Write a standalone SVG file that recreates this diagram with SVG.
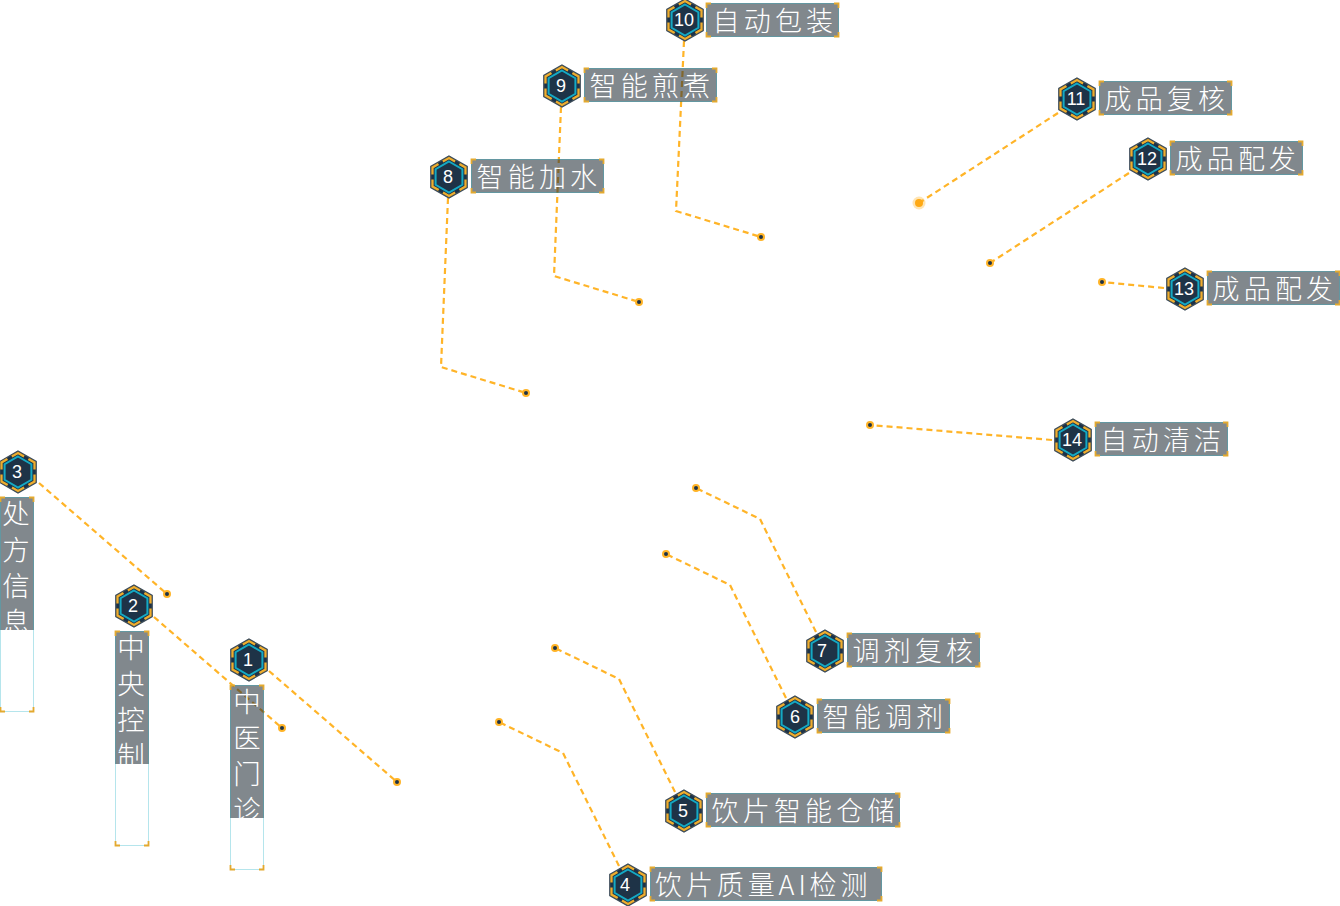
<svg xmlns="http://www.w3.org/2000/svg" width="1340" height="906" viewBox="0 0 1340 906">
<style>
.c{fill:none;stroke:#ffb428;stroke-width:2.200;stroke-dasharray:6 4}
.dot{fill:#1e3347;stroke:#ffb428;stroke-width:2}
.b{fill:rgb(30,42,52);fill-opacity:.56}
.f{fill:none;stroke:#2bb3c8;stroke-width:1;stroke-dasharray:1 1;stroke-opacity:.7}
.k{fill:none;stroke:#e3a92f;stroke-width:1.800}
.t{font-family:"Noto Sans CJK SC","Noto Sans",sans-serif;font-weight:300;font-size:27px;fill:#fff;letter-spacing:4.200px}
.v{font-family:"Noto Sans CJK SC","Noto Sans",sans-serif;font-weight:300;font-size:27.500px;fill:#fff;writing-mode:vertical-rl;text-orientation:upright;letter-spacing:8.500px}
.n{font-family:"Liberation Sans",Arial,sans-serif;font-size:18px;fill:#fff;text-anchor:middle}
</style>
<defs>
<g id="hex">
<polygon points="0,-21 18.2,-10.500 18.2,10.500 0,21 -18.2,10.500 -18.200,-10.500" fill="#1e3347" stroke="#3d4c59" stroke-width="1.300"/>
<polygon points="0,-19 16.500,-9.500 16.500,9.500 0,19 -16.500,9.500 -16.500,-9.500" fill="#1e3347" stroke="#eead2e" stroke-width="2.300" stroke-dasharray="14 5" stroke-dashoffset="7"/>
<polygon points="0,-15.500 13.400,-7.750 13.400,7.750 0,15.500 -13.400,7.750 -13.400,-7.750" fill="#1e3347" stroke="#14a9c4" stroke-width="2"/>
</g>
<clipPath id="c1"><rect x="230" y="685" width="34" height="133"/></clipPath>
<clipPath id="c2"><rect x="115" y="631" width="34" height="133"/></clipPath>
<clipPath id="c3"><rect x="0" y="497" width="34" height="133"/></clipPath>
</defs>
<g id="connectors">
<path class="c" d="M269 671L397 782"/><circle class="dot" cx="397" cy="782" r="3"/>
<path class="c" d="M154 617L282 728"/><circle class="dot" cx="282" cy="728" r="3"/>
<path class="c" d="M39 483L167 594"/><circle class="dot" cx="167" cy="594" r="3"/>
<path class="c" d="M619 866L563 753L499 722"/><circle class="dot" cx="499" cy="722" r="3"/>
<path class="c" d="M675 792L619 679L555 648"/><circle class="dot" cx="555" cy="648" r="3"/>
<path class="c" d="M786 698L730 585L666 554"/><circle class="dot" cx="666" cy="554" r="3"/>
<path class="c" d="M816 632L760 519L696 488"/><circle class="dot" cx="696" cy="488" r="3"/>
<path class="c" d="M448 198L441 367L526 393"/><circle class="dot" cx="526" cy="393" r="3"/>
<path class="c" d="M561 107L554 276L639 302"/><circle class="dot" cx="639" cy="302" r="3"/>
<path class="c" d="M684 41L676 211L761 237"/><circle class="dot" cx="761" cy="237" r="3"/>
<path class="c" d="M1058 113L919 203"/><circle cx="919" cy="203" r="6.500" fill="#ffb428" fill-opacity=".35"/><circle cx="919" cy="203" r="4" fill="#ffa914"/>
<path class="c" d="M1129 173L990 263"/><circle class="dot" cx="990" cy="263" r="3"/>
<path class="c" d="M1164 288L1102 282"/><circle class="dot" cx="1102" cy="282" r="3"/>
<path class="c" d="M1052 440L870 425"/><circle class="dot" cx="870" cy="425" r="3"/>
</g>
<g id="node1"><use href="#hex" x="249" y="660"/><text class="n" x="248" y="666">1</text>
<rect class="b" x="230" y="685" width="34" height="133"/><rect class="f" x="230.500" y="685.500" width="33" height="184"/>
<path class="k" d="M230.500 690V685.500H235M259 685.500H263.500V690M230.500 865V869.500H235M259 869.500H263.500V865"/>
<g clip-path="url(#c1)"><text class="v" x="247" y="688">中医门诊</text></g></g>
<g id="node2"><use href="#hex" x="134" y="606"/><text class="n" x="133" y="612">2</text>
<rect class="b" x="115" y="631" width="34" height="133"/><rect class="f" x="115.500" y="631.500" width="33" height="214"/>
<path class="k" d="M115.500 636V631.500H120M144 631.500H148.500V636M115.500 841V845.500H120M144 845.500H148.500V841"/>
<g clip-path="url(#c2)"><text class="v" x="131" y="634">中央控制</text></g></g>
<g id="node3"><use href="#hex" x="18" y="472"/><text class="n" x="17" y="478">3</text>
<rect class="b" x="0" y="497" width="34" height="133"/><rect class="f" x="0.500" y="497.500" width="33" height="214"/>
<path class="k" d="M.5 502V497.500H5M29 497.500H33.500V502M.5 707V711.500H5M29 711.500H33.500V707"/>
<g clip-path="url(#c3)"><text class="v" x="16" y="500">处方信息</text></g></g>
<g id="node4"><use href="#hex" x="628" y="885"/><text class="n" x="625" y="891">4</text>
<rect class="b" x="650" y="867" width="232" height="34"/><rect class="f" x="650.500" y="867.500" width="231" height="33"/>
<path class="k" d="M650.500 872V867.500H655M877 867.500H881.500V872M650.500 896V900.500H655M877 900.500H881.500V896"/>
<text class="t" x="655" y="894.500" style="letter-spacing:3.900px">饮片质量AI检测</text></g>
<g id="node5"><use href="#hex" x="684" y="811"/><text class="n" x="683" y="817">5</text>
<rect class="b" x="706" y="793" width="194" height="34"/><rect class="f" x="706.500" y="793.500" width="193" height="33"/>
<path class="k" d="M706.500 798V793.500H711M895 793.500H899.500V798M706.500 822V826.500H711M895 826.500H899.500V822"/>
<text class="t" x="711.500" y="820.500">饮片智能仓储</text></g>
<g id="node6"><use href="#hex" x="795" y="717"/><text class="n" x="795" y="723">6</text>
<rect class="b" x="817" y="699" width="133" height="34"/><rect class="f" x="817.500" y="699.500" width="132" height="33"/>
<path class="k" d="M817.500 704V699.500H822M945 699.500H949.500V704M817.500 728V732.500H822M945 732.500H949.500V728"/>
<text class="t" x="822.500" y="726.500">智能调剂</text></g>
<g id="node7"><use href="#hex" x="825" y="651"/><text class="n" x="822" y="657">7</text>
<rect class="b" x="847" y="633" width="133" height="34"/><rect class="f" x="847.500" y="633.500" width="132" height="33"/>
<path class="k" d="M847.500 638V633.500H852M975 633.500H979.500V638M847.500 662V666.500H852M975 666.500H979.500V662"/>
<text class="t" x="852.500" y="660.500">调剂复核</text></g>
<g id="node8"><use href="#hex" x="449" y="177"/><text class="n" x="448" y="183">8</text>
<rect class="b" x="471" y="159" width="133" height="34"/><rect class="f" x="471.500" y="159.500" width="132" height="33"/>
<path class="k" d="M471.500 164V159.500H476M599 159.500H603.500V164M471.500 188V192.500H476M599 192.500H603.500V188"/>
<text class="t" x="476.500" y="186.500">智能加水</text></g>
<g id="node9"><use href="#hex" x="562" y="86"/><text class="n" x="561" y="92">9</text>
<rect class="b" x="584" y="68" width="133" height="34"/><rect class="f" x="584.500" y="68.500" width="132" height="33"/>
<path class="k" d="M584.500 73V68.500H589M712 68.500H716.500V73M584.500 97V101.500H589M712 101.500H716.500V97"/>
<text class="t" x="589.500" y="95.500">智能煎煮</text></g>
<g id="node10"><use href="#hex" x="685" y="20"/><text class="n" x="684" y="26">10</text>
<rect class="b" x="706" y="3" width="133" height="34"/><rect class="f" x="706.500" y="3.500" width="132" height="33"/>
<path class="k" d="M706.500 8V3.500H711M834 3.500H838.500V8M706.500 32V36.500H711M834 36.500H838.500V32"/>
<text class="t" x="712.500" y="30.500">自动包装</text></g>
<g id="node11"><use href="#hex" x="1077" y="99"/><text class="n" x="1076" y="105">11</text>
<rect class="b" x="1099" y="81" width="133" height="34"/><rect class="f" x="1099.500" y="81.500" width="132" height="33"/>
<path class="k" d="M1099.500 86V81.500H1104M1227 81.500H1231.500V86M1099.500 110V114.500H1104M1227 114.500H1231.500V110"/>
<text class="t" x="1104.500" y="108.500">成品复核</text></g>
<g id="node12"><use href="#hex" x="1148" y="159"/><text class="n" x="1147" y="165">12</text>
<rect class="b" x="1170" y="141" width="133" height="34"/><rect class="f" x="1170.500" y="141.500" width="132" height="33"/>
<path class="k" d="M1170.500 146V141.500H1175M1298 141.500H1302.500V146M1170.500 170V174.500H1175M1298 174.500H1302.500V170"/>
<text class="t" x="1175.500" y="168.500">成品配发</text></g>
<g id="node13"><use href="#hex" x="1185" y="289"/><text class="n" x="1184" y="295">13</text>
<rect class="b" x="1207" y="271" width="133" height="34"/><rect class="f" x="1207.500" y="271.500" width="132" height="33"/>
<path class="k" d="M1207.500 276V271.500H1212M1335 271.500H1339.500V276M1207.500 300V304.500H1212M1335 304.500H1339.500V300"/>
<text class="t" x="1212.500" y="298.500">成品配发</text></g>
<g id="node14"><use href="#hex" x="1073" y="440"/><text class="n" x="1072" y="446">14</text>
<rect class="b" x="1095" y="422" width="133" height="34"/><rect class="f" x="1095.500" y="422.500" width="132" height="33"/>
<path class="k" d="M1095.500 427V422.500H1100M1223 422.500H1227.500V427M1095.500 451V455.500H1100M1223 455.500H1227.500V451"/>
<text class="t" x="1100.500" y="449.500">自动清洁</text></g>
</svg>
